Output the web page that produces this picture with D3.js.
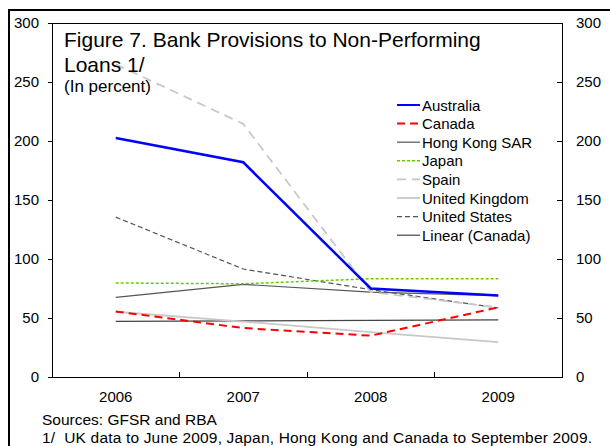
<!DOCTYPE html>
<html>
<head>
<meta charset="utf-8">
<script src="https://cdn.jsdelivr.net/npm/d3@7"></script>
<style>
  html, body { margin: 0; padding: 0; background: #fff; }
  svg { display: block; font-family: "Liberation Sans", Arial, sans-serif; }
</style>
</head>
<body>
<svg id="chart" width="610" height="446"></svg>
<script>
// ---- data ----
const years = ["2006", "2007", "2008", "2009"];
const yTicks = [0, 50, 100, 150, 200, 250, 300];
const australia = [202.5, 182, 75, 69];
const canada = [55.5, 41.5, 35, 59];
const hongKong = [67.5, 78.5, 72, 69];
const japan = [79.7, 79, 83.3, 83.3];
const spain = [265, 214.5, 72, 59];
const unitedKingdom = [55.3, 47, 38, 29.5];
const unitedStates = [135.5, 91.5, 74, 58.5];
const seriesNames = ["Australia", "Canada", "Hong Kong SAR", "Japan", "Spain", "United Kingdom", "United States", "Linear (Canada)"];
const titleLines = ["Figure 7. Bank Provisions to Non-Performing", "Loans 1/"];
const subtitle = "(In percent)";
const footnotes = ["Sources: GFSR and RBA", "1/  UK data to June 2009, Japan, Hong Kong and Canada to September 2009."];

// Linear trendline of Canada (least squares, as in the source chart)
function linearTrend(vals) {
  const n = vals.length;
  const xs = vals.map((_, i) => i);
  const mx = d3.mean(xs), my = d3.mean(vals);
  const slope = d3.sum(xs, (x, i) => (x - mx) * (vals[i] - my)) / d3.sum(xs, x => (x - mx) ** 2);
  return xs.map(x => my + slope * (x - mx));
}
const linearCanada = linearTrend(canada);

const styles = {
  "Australia":       { color: "#0000ff", width: 2.5, dash: null },
  "Canada":          { color: "#ff0000", width: 2,   dash: "8,5" },
  "Hong Kong SAR":   { color: "#555555", width: 1.2, dash: null },
  "Japan":           { color: "#66cc00", width: 1.5, dash: "3,2" },
  "Spain":           { color: "#c8c8c8", width: 1.8, dash: "9,6" },
  "United Kingdom":  { color: "#c8c8c8", width: 1.8, dash: null },
  "United States":   { color: "#555555", width: 1.2, dash: "5,3" },
  "Linear (Canada)": { color: "#444444", width: 1.2, dash: null }
};
const valuesByName = {
  "Australia": australia, "Canada": canada, "Hong Kong SAR": hongKong, "Japan": japan,
  "Spain": spain, "United Kingdom": unitedKingdom, "United States": unitedStates,
  "Linear (Canada)": linearCanada
};

// ---- layout ----
const svg = d3.select("#chart");
const plot = { left: 52, right: 562, top: 23, bottom: 377 };

// outer frame (extends past the window at right/bottom)
svg.append("rect").attr("x", 9).attr("y", 10).attr("width", 620).attr("height", 460)
  .attr("fill", "none").attr("stroke", "#000").attr("stroke-width", 2);

const x = d3.scaleBand().domain(years).range([plot.left, plot.right]);
const y = d3.scaleLinear().domain([0, 300]).range([plot.bottom, plot.top]);

// plot box
svg.append("rect").attr("x", plot.left).attr("y", plot.top)
  .attr("width", plot.right - plot.left).attr("height", plot.bottom - plot.top)
  .attr("fill", "none").attr("stroke", "#000").attr("stroke-width", 1)
  .attr("shape-rendering", "crispEdges");

// left axis
const leftAxis = svg.append("g").attr("transform", `translate(${plot.left},0)`)
  .call(d3.axisLeft(y).tickValues(yTicks).tickSize(4).tickPadding(9));
// right axis (ticks inward)
const rightAxis = svg.append("g").attr("transform", `translate(${plot.right},0)`)
  .call(d3.axisRight(y).tickValues(yTicks).tickSizeInner(-5).tickSizeOuter(0).tickPadding(14));
rightAxis.selectAll("text").attr("x", 14);
// bottom axis: ticks at category boundaries, inward
const boundaries = years.slice(1).map(yr => x(yr));
const bottomAxis = svg.append("g").attr("transform", `translate(0,${plot.bottom})`)
  .call(d3.axisBottom(x).tickSize(0).tickPadding(14));
bottomAxis.selectAll(".tick line").remove();
svg.append("g").selectAll("line").data(boundaries).join("line")
  .attr("x1", d => d).attr("x2", d => d)
  .attr("y1", plot.bottom).attr("y2", plot.bottom - 5)
  .attr("stroke", "#000").attr("shape-rendering", "crispEdges");

[leftAxis, rightAxis, bottomAxis].forEach(g => {
  g.select(".domain").remove();
  g.selectAll("text").attr("font-size", 15).attr("fill", "#000")
    .attr("font-family", "'Liberation Sans', Arial, sans-serif");
  g.selectAll(".tick line").attr("stroke", "#000").attr("shape-rendering", "crispEdges");
});

// lines
const line = d3.line().x((d, i) => x(years[i]) + x.bandwidth() / 2).y(d => y(d));
const drawOrder = ["Linear (Canada)", "United Kingdom", "Hong Kong SAR", "United States", "Spain", "Japan", "Canada", "Australia"];
svg.append("g").selectAll("path").data(drawOrder).join("path")
  .attr("d", n => line(valuesByName[n]))
  .attr("fill", "none")
  .attr("stroke", n => styles[n].color)
  .attr("stroke-width", n => styles[n].width)
  .attr("stroke-dasharray", n => styles[n].dash);

// title
svg.append("text").attr("x", 64).attr("y", 47).attr("font-size", 21).attr("fill", "#000").text(titleLines[0]);
svg.append("text").attr("x", 64).attr("y", 72).attr("font-size", 21).attr("fill", "#000").text(titleLines[1]);
svg.append("text").attr("x", 64).attr("y", 92).attr("font-size", 17).attr("fill", "#000").text(subtitle);

// legend
const leg = svg.append("g");
const rowH = 18.6, legTop = 105;
const rows = leg.selectAll("g").data(seriesNames).join("g")
  .attr("transform", (d, i) => `translate(0,${legTop + i * rowH})`);
rows.append("line").attr("x1", 397).attr("x2", 420).attr("y1", 0).attr("y2", 0)
  .attr("stroke", n => styles[n].color)
  .attr("stroke-width", n => Math.min(styles[n].width, 2))
  .attr("stroke-dasharray", n => styles[n].dash);
rows.append("text").attr("x", 422).attr("y", 5.5).attr("font-size", 15).attr("fill", "#000").text(n => n);

// footnotes
svg.append("text").attr("x", 42).attr("y", 425).attr("font-size", 15.5).attr("fill", "#000").text(footnotes[0]);
svg.append("text").attr("x", 42).attr("y", 443).attr("font-size", 15.5).attr("fill", "#000")
  .style("white-space", "pre").attr("textLength", 550).attr("lengthAdjust", "spacing").text(footnotes[1]);
</script>
</body>
</html>
